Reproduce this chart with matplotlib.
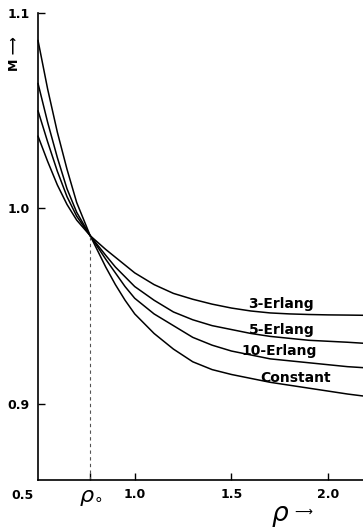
import matplotlib
matplotlib.use("Agg")
import matplotlib.pyplot as plt
from matplotlib.transforms import blended_transform_factory

# Load factor rho and the normalised measure M for each service-time model
rho = [0.50, 0.55, 0.60, 0.65, 0.70, 0.77, 0.85, 0.90, 0.95, 1.00, 1.10,
       1.20, 1.30, 1.40, 1.50, 1.60, 1.70, 1.80, 1.90, 2.00, 2.10, 2.18]
m_erlang3 = [1.037, 1.024, 1.012, 1.002, 0.994, 0.986, 0.979, 0.975, 0.971, 0.967, 0.961,
             0.9565, 0.9535, 0.951, 0.949, 0.9475, 0.9465, 0.946, 0.9457, 0.9455, 0.9454, 0.9453]
m_erlang5 = [1.050, 1.034, 1.019, 1.006, 0.996, 0.986, 0.976, 0.970, 0.965, 0.960, 0.953,
             0.947, 0.943, 0.940, 0.938, 0.936, 0.9345, 0.9335, 0.9325, 0.932, 0.9315, 0.931]
m_erlang10 = [1.064, 1.044, 1.026, 1.010, 0.998, 0.986, 0.974, 0.967, 0.960, 0.954, 0.946,
              0.940, 0.934, 0.930, 0.927, 0.925, 0.923, 0.922, 0.921, 0.920, 0.919, 0.9185]
m_constant = [1.086, 1.061, 1.039, 1.020, 1.003, 0.986, 0.970, 0.961, 0.953, 0.946, 0.936,
              0.928, 0.9215, 0.9175, 0.915, 0.913, 0.911, 0.9095, 0.908, 0.9065, 0.905, 0.904]

curve_names = ["3-Erlang", "5-Erlang", "10-Erlang", "Constant"]
curve_values = [m_erlang3, m_erlang5, m_erlang10, m_constant]
label_pos = [(1.758, 0.951), (1.760, 0.938), (1.747, 0.927), (1.832, 0.913)]

rho0 = 0.77
m_rho0 = 0.986
x_ticks = [0.77, 1.0, 1.5, 2.0]
x_tick_labels = [r"$\rho_{\circ}$", "1.0", "1.5", "2.0"]
y_ticks = [0.9, 1.0, 1.1]
y_tick_labels = ["0.9", "1.0", "1.1"]

W, H = 363, 529
fig = plt.figure(figsize=(W / 100, H / 100), dpi=100)
ax = fig.add_axes([38 / W, 1 - 480 / H, 1 - 38 / W, (480 - 13) / H])
ax.set_xlim(0.5, 2.18)
ax.set_ylim(0.861, 1.1)

for vals in curve_values:
    ax.plot(rho, vals, color="black", lw=1.1, solid_joinstyle="round",
            solid_capstyle="round", clip_on=False)

for name, (lx, ly) in zip(curve_names, label_pos):
    ax.text(lx, ly, name, ha="center", va="center", fontsize=10,
            fontweight="bold", family="DejaVu Sans")

# dashed drop line from the common crossing point
ax.plot([rho0, rho0], [0.861, m_rho0], color="#555555", lw=0.8,
        ls=(0, (3, 3)))

for side in ("top", "right"):
    ax.spines[side].set_visible(False)
for side in ("left", "bottom"):
    ax.spines[side].set_linewidth(1.2)

ax.set_xticks(x_ticks)
ax.set_xticklabels(x_tick_labels)
ax.set_yticks(y_ticks)
ax.set_yticklabels(y_tick_labels)
ax.tick_params(direction="in", length=5, width=1, pad=6, labelsize=9)
for lbl in ax.get_xticklabels() + ax.get_yticklabels():
    lbl.set_fontweight("bold")
ax.get_xticklabels()[0].set_fontsize(16)
ax.get_xticklabels()[0].set_fontweight("normal")

trans = blended_transform_factory(ax.transData, ax.transAxes)
ax.text(0.418, -0.02, "0.5", transform=trans, ha="center", va="top",
        fontsize=9, fontweight="bold")

# axis titles
fig.text(14 / W, 1 - 54 / H, "M \u27f6", rotation=90, ha="center", va="center",
         fontsize=9, fontweight="bold")
fig.text(280 / W, 1 - 516 / H, r"$\rho$", ha="center", va="center", fontsize=19)
fig.text(303 / W, 1 - 512 / H, "\u27f6", ha="center", va="center", fontsize=9)

fig.savefig("out.png", dpi=100)
